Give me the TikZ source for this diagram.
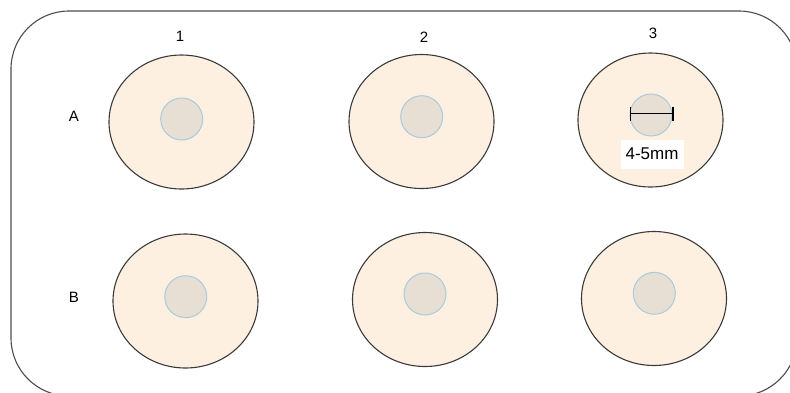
\documentclass[tikz,border=0pt]{standalone}
\usepackage{fontspec}
\setmainfont{Liberation Sans}
\usetikzlibrary{shapes.geometric,arrows.meta}
\definecolor{wellfill}{HTML}{FEF0E1}
\definecolor{welledge}{HTML}{3A3A3A}
\definecolor{discfill}{HTML}{E7DED4}
\definecolor{discedge}{HTML}{A9CBDD}
\tikzset{
  well/.style={ellipse, draw=welledge, line width=1.1pt, fill=wellfill, minimum width=145pt, minimum height=134pt, inner sep=0pt},
  disc/.style={circle, draw=discedge, line width=1pt, fill=discfill, minimum size=42pt, inner sep=0pt},
  lab/.style={font=\fontsize{15}{15}\selectfont, inner sep=0pt},
  plate/.style={draw=black!70, line width=1.1pt, rounded corners=58pt}
}
\begin{document}
\begin{tikzpicture}[x=1pt,y=-1pt]
\useasboundingbox (0,0) rectangle (790,392);
\clip (0,0) rectangle (790,392);
\draw[plate] (11,11) rectangle (797,396);
% wells
\node[well] (wA1) at (181.5,122) {};
\node[well] (wA2) at (421.5,121.5) {};
\node[well] (wA3) at (650.5,120) {};
\node[well] (wB1) at (185.5,301) {};
\node[well] (wB2) at (425,299.5) {};
\node[well] (wB3) at (654,298.5) {};
% discs
\node[disc] (dA1) at (181.7,119) {};
\node[disc] (dA2) at (421.7,116.7) {};
\node[disc] (dA3) at (651,115) {};
\node[disc] (dB1) at (185.7,296.7) {};
\node[disc] (dB2) at (425,294) {};
\node[disc] (dB3) at (654.3,293.3) {};
% labels
\node[lab] (c1) at (180,36) {1};
\node[lab] (c2) at (424,37) {2};
\node[lab] (c3) at (653,33) {3};
\node[lab] (rA) at (74,116) {A};
\node[lab] (rB) at (74,297) {B};
% scale bar
\coordinate (sL) at (629.5,113.5);
\coordinate (sR) at (673.5,113.5);
\draw[line width=1.5pt, {Bar[width=14pt]}-{Bar[width=14pt]}] (sL) -- (sR);
\node[fill=white, minimum width=63pt, minimum height=29pt, inner sep=0pt, font=\fontsize{17}{17}\selectfont] (size) at (652,154) {4-5mm};
\end{tikzpicture}
\end{document}
